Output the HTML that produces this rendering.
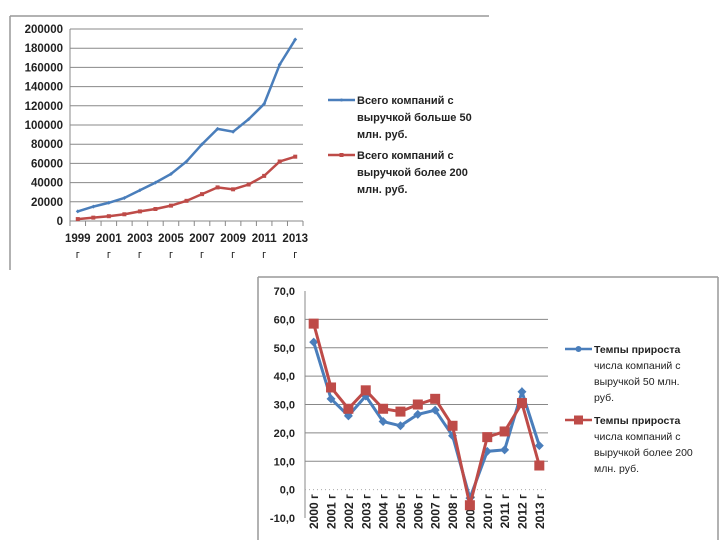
<!DOCTYPE html>
<html><head><meta charset="utf-8"><style>
html,body{margin:0;padding:0;background:#fff;}
svg{display:block;font-family:"Liberation Sans","DejaVu Sans",sans-serif;}
</style></head><body>
<svg id="svg" width="720" height="540" viewBox="0 0 720 540" xmlns="http://www.w3.org/2000/svg">
<line x1="10" y1="16" x2="489" y2="16" stroke="#999" stroke-width="1.5"/>
<line x1="10" y1="16" x2="10" y2="270" stroke="#999" stroke-width="1.5"/>
<line x1="258" y1="277" x2="718" y2="277" stroke="#999" stroke-width="1.5"/>
<line x1="258" y1="277" x2="258" y2="540" stroke="#999" stroke-width="1.5"/>
<line x1="718" y1="277" x2="718" y2="540" stroke="#999" stroke-width="1.5"/>
<g id="top"></g>
<g id="bot"></g>
</svg>
<script>
const years1 = ["1999","2000","2001","2002","2003","2004","2005","2006","2007","2008","2009","2010","2011","2012","2013"];
const blue1 = [10000,15000,19000,24000,32000,40000,49000,62000,80000,96000,93000,106000,122000,163000,189000];
const red1 = [2000,3500,5000,7000,10000,12500,16000,21000,28000,35000,33000,38000,47000,62000,67000];
const ticks1 = [0,20000,40000,60000,80000,100000,120000,140000,160000,180000,200000];
const years2 = ["2000 г","2001 г","2002 г","2003 г","2004 г","2005 г","2006 г","2007 г","2008 г","2009 г","2010 г","2011 г","2012 г","2013 г"];
const blue2 = [52,32,26,33,24,22.5,26.5,28,19,-3,13.5,14,34.5,15.5];
const red2 = [58.5,36,28.5,35,28.5,27.5,30,32,22.5,-5.5,18.5,20.5,30.5,8.5];
const ticks2 = [-10,0,10,20,30,40,50,60,70];
const NS="http://www.w3.org/2000/svg";
function mk(p,tag,a,txt){const e=document.createElementNS(NS,tag);for(const k in a)e.setAttribute(k,a[k]);if(txt!==undefined)e.textContent=txt;p.appendChild(e);return e;}
const BLUE="#4a7ebb",RED="#be4b48";

const T=document.getElementById('top');
const x0=70,x1=303,yT=29,yB=221;
const bw1=(x1-x0)/years1.length;
const xs1=i=>x0+bw1*(i+0.5);
const ys1=v=>yB-(v/200000)*(yB-yT);
ticks1.forEach(t=>{
  const g=mk(T,'line',{x1:x0,x2:x1,y1:ys1(t),y2:ys1(t),stroke:'#888','stroke-width':1});
  
  
  const l=mk(T,'text',{x:x0-7,y:ys1(t)+4,'text-anchor':'end','font-size':11.5,'font-weight':'bold',fill:'#222'},String(t));
  
  
});
const ya=mk(T,'line',{x1:x0,x2:x0,y1:yT,y2:yB,stroke:'#888'});


for(let i=0;i<=years1.length;i++){const tk=mk(T,'line',{x1:x0+bw1*i,x2:x0+bw1*i,y1:yB,y2:yB+5,stroke:'#888'});}
years1.forEach((y,i)=>{if(i%2)return;
  const l=mk(T,'text',{x:xs1(i),y:242,'text-anchor':'middle','font-size':11.5,'font-weight':'bold',fill:'#222'},y);
  
  
  const g=mk(T,'text',{x:xs1(i),y:258,'text-anchor':'middle','font-size':11,fill:'#222'},'г');
  
  
});
function series(p,data,xs,ys,col,name,marker,ms,sw){
  const pl=mk(p,'polyline',{points:data.map((v,i)=>xs(i)+','+ys(v)).join(' '),fill:'none',stroke:col,'stroke-width':sw});
  
  
  data.forEach((v,i)=>{let m;
    if(marker==='sq')m=mk(p,'rect',{x:xs(i)-ms,y:ys(v)-ms,width:2*ms,height:2*ms,fill:col});
    else m=mk(p,'polygon',{points:`${xs(i)},${ys(v)-ms} ${xs(i)+ms},${ys(v)} ${xs(i)},${ys(v)+ms} ${xs(i)-ms},${ys(v)}`,fill:col});
    
    
  });
}
series(T,blue1,xs1,ys1,BLUE,'top-blue-series','d',2,2.5);
series(T,red1,xs1,ys1,RED,'top-red-series','sq',2,2.5);
function legend(p,x,y,col,lines,marker,ms,name,lh,fs,boldAll){
  const g=mk(p,'g',{});
  
  
  mk(g,'line',{x1:x,x2:x+27,y1:y,y2:y,stroke:col,'stroke-width':2.5});
  if(marker==='sq')mk(g,'rect',{x:x+13.5-ms,y:y-ms,width:2*ms,height:2*ms,fill:col});
  else mk(g,'circle',{cx:x+13.5,cy:y,r:ms,fill:col});
  lines.forEach((t,i)=>mk(g,'text',{x:x+29,y:y+4+i*lh,'font-size':fs,fill:'#222','font-weight':(boldAll||i===0)?'bold':'normal'},t));
}
legend(T,328,100,BLUE,['Всего компаний с','выручкой больше 50','млн. руб.'],'d',1.5,'top-legend-blue',17,11,true);
legend(T,328,155,RED,['Всего компаний с','выручкой более 200','млн. руб.'],'sq',2,'top-legend-red',17,11,true);

const B=document.getElementById('bot');
const bx0=305,bx1=548,byT=291,byB=518;
const bw2=(bx1-bx0)/years2.length;
const xs2=i=>bx0+bw2*(i+0.5);
const ys2=v=>byB-((v+10)/80)*(byB-byT);
ticks2.forEach(t=>{
  if(t!==-10 && t!==0 && t!==70){const g=mk(B,'line',{x1:bx0,x2:bx1,y1:ys2(t),y2:ys2(t),stroke:'#888'});
  
  }
  const l=mk(B,'text',{x:bx0-10,y:ys2(t)+4,'text-anchor':'end','font-size':11,'font-weight':'bold',fill:'#222'},t.toFixed(1).replace('.',','));
  
  
});
const ba=mk(B,'line',{x1:bx0,x2:bx0,y1:byT,y2:byB,stroke:'#888'});


const bz=mk(B,'line',{x1:bx0,x2:bx1,y1:ys2(0),y2:ys2(0),stroke:'#aaa','stroke-dasharray':'1,3'});


years2.forEach((y,i)=>{
  const l=mk(B,'text',{x:0,y:0,'text-anchor':'end','font-size':12,'font-weight':'bold',fill:'#222',transform:`translate(${xs2(i)+4.5},494) rotate(-90)`},y);
  
  
});
series(B,blue2,xs2,ys2,BLUE,'bottom-blue-series','d',4.5,3);
series(B,red2,xs2,ys2,RED,'bottom-red-series','sq',5,3);
legend(B,565,349,BLUE,['Темпы прироста','числа компаний с','выручкой 50 млн.','руб.'],'c',3,'bottom-legend-blue',16,10.5,false);
legend(B,565,420,RED,['Темпы прироста','числа компаний с','выручкой более 200','млн. руб.'],'sq',4.5,'bottom-legend-red',16,10.5,false);
</script>
</body></html>
